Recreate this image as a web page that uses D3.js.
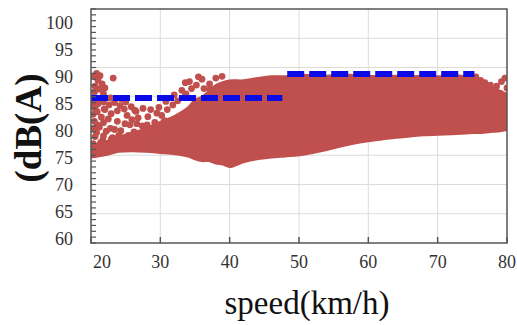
<!DOCTYPE html>
<html>
<head>
<meta charset="utf-8">
<script src="https://cdn.jsdelivr.net/npm/d3@7"></script>
<style>
  body { margin: 0; background: #fff; }
  svg { display: block; }
</style>
</head>
<body>
<svg id="chart" width="517" height="325"></svg>
<script>
// x / y ticks
const xTicks = [20, 30, 40, 50, 60, 70, 80];
const yTicks = [60, 65, 70, 75, 80, 85, 90, 95, 100];

// dense cloud envelope (speed, lower dB, upper dB)
const cloudSpeed = [20, 22, 24, 26, 28, 30, 32, 34, 35, 36, 37, 38, 39, 40, 42, 44, 46, 48, 50, 52, 54, 56, 58, 60, 62, 64, 66, 68, 70, 72, 74, 75, 76, 77, 78, 79, 80];
const cloudLower = [74.6, 75.0, 75.6, 75.7, 75.6, 75.4, 75.2, 74.8, 74.3, 74.0, 74.0, 73.6, 73.4, 73.0, 73.8, 74.3, 74.6, 74.8, 75.0, 75.4, 75.9, 76.5, 77.0, 77.4, 77.7, 78.0, 78.2, 78.4, 78.5, 78.6, 78.7, 78.8, 78.8, 78.9, 79.0, 79.1, 79.3];
const cloudUpper = [76.8, 77.3, 78.2, 78.8, 79.7, 80.7, 81.7, 83.2, 84.5, 85.0, 86.0, 87.0, 87.5, 87.8, 87.8, 88.2, 88.5, 88.5, 88.7, 88.7, 88.6, 88.8, 88.7, 88.6, 88.5, 88.6, 88.5, 88.6, 88.5, 88.7, 88.5, 88.3, 87.5, 87.0, 86.5, 86.0, 85.5];

// scattered points outside the dense part
const spotSpeed = [20.4, 20.8, 21.3, 21.0, 21.6, 20.6, 21.2, 22.0, 20.5, 21.8, 23.2,
  20.3, 21.0, 21.8, 22.6, 23.4, 24.2, 25.0, 25.8, 20.6, 22.0, 23.8,
  20.3, 20.5, 20.4, 20.6, 20.3, 21.5, 21.2, 21.8, 21.4, 22.5, 22.8, 23.1, 22.4, 23.8, 24.3, 24.6, 23.6,
  25.2, 25.6, 26.2, 25.0, 26.8, 27.4, 27.0, 28.2, 28.8, 29.5, 30.2, 31.0, 31.8, 29.8, 27.5,
  32.5, 33.6, 34.5, 35.2, 36.3, 37.1, 36.0, 38.0, 33.6, 33.7, 37.2, 26.3,
  20.2, 20.9, 21.9, 22.9, 24.8, 26.5, 20.9, 21.8, 22.2, 23.4, 24.9, 25.9, 26.6, 28.1, 29.2, 30.6,
  20.8, 21.7, 22.9, 24.0, 25.4, 26.3, 27.8, 20.2, 21.1, 28.6, 30.8, 32.0, 33.1, 34.2, 35.5, 38.9, 24.4, 22.8,
  75.5, 76.2, 76.8, 77.6, 78.5, 79.2, 79.7, 78.0, 79.0, 79.8, 76.5, 77.3, 80.0];
const spotDb = [88.5, 89.0, 88.6, 87.8, 87.2, 86.8, 86.3, 86.5, 85.8, 85.5, 88.2,
  84.2, 83.8, 84.1, 83.6, 84.0, 83.5, 84.1, 83.3, 83.0, 82.8, 82.6,
  82.0, 80.8, 79.5, 78.2, 77.0, 81.5, 79.8, 78.3, 77.2, 81.2, 79.6, 78.0, 77.0, 80.8, 79.2, 77.8, 77.0,
  81.8, 80.2, 79.0, 76.8, 81.4, 80.0, 78.0, 81.6, 79.4, 82.2, 81.8, 82.8, 83.6, 83.2, 83.0,
  84.3, 85.2, 86.4, 87.0, 86.4, 87.2, 88.0, 88.2, 87.4, 85.5, 86.3, 82.7,
  83.3, 82.4, 82.9, 82.1, 82.9, 82.5, 80.2, 80.6, 79.1, 79.4, 80.4, 81.1, 80.4, 80.2, 80.6, 80.9,
  78.9, 77.6, 77.7, 78.4, 78.4, 77.6, 78.6, 76.6, 76.5, 82.8, 84.2, 85.3, 86.1, 87.6, 88.4, 88.5, 84.6, 84.8,
  88.4, 87.8, 87.4, 87.0, 86.8, 87.6, 88.2, 86.0, 85.6, 84.8, 86.3, 85.9, 86.5];

// limit lines
const limitStart = [20, 48.3];
const limitEnd = [47.6, 75.3];
const limitDb = [84.8, 88.9];

const margin = { top: 9, right: 10, bottom: 82, left: 91 };
const width = 517 - margin.left - margin.right;
const height = 325 - margin.top - margin.bottom;
const red = "#c0504d";
const serif = "'Liberation Serif', 'Times New Roman', serif";

const svg = d3.select("#chart");
const g = svg.append("g")
  .attr("transform", "translate(" + margin.left + "," + margin.top + ")");

svg.append("defs").append("clipPath")
  .attr("id", "plot-clip")
  .append("rect")
  .attr("width", width).attr("height", height);

const x = d3.scaleLinear().domain([20, 80]).range([0, width]);
const y = d3.scaleLinear().domain([60, 100]).range([height, 0]);
// the printed tick labels sit on a slightly tighter spacing than the grid
const yLabel = d3.scaleLinear().domain([60, 100]).range([239, 23]);

// grid
g.selectAll(".vgrid")
  .data(xTicks.slice(1, -1))
  .enter()
  .append("line")
  .attr("x1", d => x(d)).attr("x2", d => x(d))
  .attr("y1", 0).attr("y2", height)
  .attr("stroke", "#dcdcdc").attr("stroke-width", 1);

g.selectAll(".hgrid")
  .data(yTicks.slice(1, -1))
  .enter()
  .append("line")
  .attr("x1", 0).attr("x2", width)
  .attr("y1", d => y(d)).attr("y2", d => y(d))
  .attr("stroke", "#dcdcdc").attr("stroke-width", 1);

const marks = g.append("g").attr("clip-path", "url(#plot-clip)");

// dense cloud
const cloud = cloudSpeed.map((s, i) => ({ s: s, lo: cloudLower[i], hi: cloudUpper[i] }));
const area = d3.area()
  .x(d => x(d.s))
  .y0(d => y(d.lo))
  .y1(d => y(d.hi))
  .curve(d3.curveCatmullRom);

marks.append("path")
  .datum(cloud)
  .attr("d", area)
  .attr("fill", red)
  .attr("stroke", red)
  .attr("stroke-width", 2);

// scattered points
marks.selectAll(".spot")
  .data(spotSpeed.map((s, i) => ({ s: s, db: spotDb[i] })))
  .enter()
  .append("circle")
  .attr("cx", d => x(d.s))
  .attr("cy", d => y(d.db))
  .attr("r", 3.4)
  .attr("fill", red);

// dashed limit lines
g.selectAll(".limit")
  .data(limitDb)
  .enter()
  .append("line")
  .attr("x1", (d, i) => x(limitStart[i]))
  .attr("x2", (d, i) => x(limitEnd[i]))
  .attr("y1", d => y(d)).attr("y2", d => y(d))
  .attr("stroke", "#0a0ae6")
  .attr("stroke-width", 6)
  .attr("stroke-dasharray", "17,5");

// frame
g.append("rect")
  .attr("width", width).attr("height", height)
  .attr("fill", "none")
  .attr("stroke", "#555")
  .attr("stroke-width", 1.5);

// minor ticks on the left, every 1 dB
g.selectAll(".ytick")
  .data(d3.range(60, 101, 1))
  .enter()
  .append("line")
  .attr("x1", 0).attr("x2", 5)
  .attr("y1", d => y(d)).attr("y2", d => y(d))
  .attr("stroke", "#555").attr("stroke-width", 1.2);

// x ticks pointing in
g.selectAll(".xtick")
  .data(xTicks)
  .enter()
  .append("line")
  .attr("x1", d => x(d)).attr("x2", d => x(d))
  .attr("y1", height).attr("y2", height - 6)
  .attr("stroke", "#555").attr("stroke-width", 1.5);

// tick labels
svg.selectAll(".ylab")
  .data(yTicks)
  .enter()
  .append("text")
  .attr("x", 73)
  .attr("y", d => yLabel(d))
  .attr("dy", "0.35em")
  .attr("text-anchor", "end")
  .attr("font-family", serif)
  .attr("font-size", 18)
  .attr("fill", "#333")
  .text(d => d);

svg.selectAll(".xlab")
  .data(xTicks)
  .enter()
  .append("text")
  .attr("x", (d, i) => margin.left + x(d) + (i === 0 ? 11 : 0))
  .attr("y", 268)
  .attr("text-anchor", "middle")
  .attr("font-family", serif)
  .attr("font-size", 18)
  .attr("fill", "#333")
  .text(d => d);

// axis titles
svg.append("text")
  .attr("x", 307)
  .attr("y", 314)
  .attr("text-anchor", "middle")
  .attr("font-family", serif)
  .attr("font-size", 33)
  .attr("fill", "#111")
  .text("speed(km/h)");

svg.append("text")
  .attr("transform", "translate(41,128) rotate(-90)")
  .attr("text-anchor", "middle")
  .attr("font-family", serif)
  .attr("font-size", 37)
  .attr("font-weight", "bold")
  .attr("fill", "#111")
  .text("(dB(A)");
</script>
</body>
</html>
